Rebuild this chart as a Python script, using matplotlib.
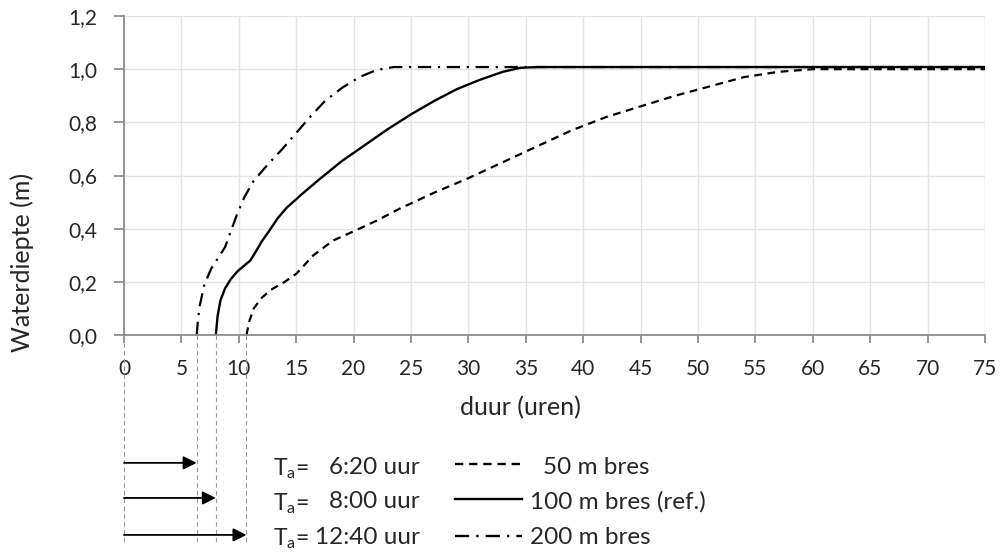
import matplotlib
matplotlib.use("Agg")
import matplotlib.pyplot as plt
import numpy as np

plt.rcParams['font.family'] = ['Lato', 'DejaVu Sans']
plt.rcParams['mathtext.fontset'] = 'custom'
plt.rcParams['mathtext.rm'] = 'Lato'

# 50 m bres
x50 = [10.67, 10.9, 11.3, 12.0, 12.8, 14.0, 15.0, 16.5, 18.2, 20.0, 22.0, 24.0, 27.0, 30.0,
       33.0, 36.0, 39.0, 42.0, 45.0, 48.0, 51.0, 54.0, 57.0, 60.0, 75.0]
y50 = [0.0, 0.05, 0.10, 0.14, 0.17, 0.20, 0.23, 0.30, 0.355, 0.39, 0.43, 0.475, 0.535, 0.59,
       0.65, 0.71, 0.77, 0.82, 0.86, 0.90, 0.935, 0.97, 0.99, 1.0, 1.0]

# 100 m bres (ref.)
x100 = [8.0, 8.15, 8.4, 8.8, 9.3, 9.9, 10.5, 11.0, 11.5, 12.0, 12.7, 13.4, 14.2, 15.5, 17.0,
        19.0, 21.0, 23.0, 25.0, 27.0, 29.0, 31.0, 33.0, 34.5, 36.0, 75.0]
y100 = [0.0, 0.07, 0.13, 0.175, 0.21, 0.24, 0.262, 0.28, 0.315, 0.352, 0.395, 0.44, 0.48, 0.53,
        0.585, 0.655, 0.715, 0.775, 0.83, 0.88, 0.925, 0.96, 0.99, 1.005, 1.008, 1.008]

# 200 m bres
x200 = [6.33, 6.45, 6.6, 7.0, 7.6, 8.2, 8.8, 9.3, 9.9, 10.5, 11.3, 12.5, 13.8, 15.0, 16.2,
        17.5, 19.0, 20.5, 22.0, 23.5, 75.0]
y200 = [0.0, 0.06, 0.11, 0.19, 0.25, 0.29, 0.33, 0.39, 0.46, 0.52, 0.58, 0.64, 0.70, 0.76, 0.82,
        0.88, 0.93, 0.97, 0.997, 1.008, 1.008]

# aankomsttijden zoals getekend (uren) en labels
t_arr = [6.33, 8.0, 10.67]
t_lbl = ["6:20 uur", "8:00 uur", "12:40 uur"]
leg_lbl = ["50 m bres", "100 m bres (ref.)", "200 m bres"]

xticks = np.arange(0, 76, 5)
yticks = np.arange(0, 1.21, 0.2)

fig = plt.figure(figsize=(10.02, 5.54), dpi=100)
ax = fig.add_axes([124/1002, 1 - 335/554, (985 - 124)/1002, (335 - 16)/554])

grey = '#8c8c8c'
txt = '#262626'
ax.grid(True, color='#e4e4e4', lw=1.0)
ax.set_axisbelow(True)
for s in ['top', 'right']:
    ax.spines[s].set_visible(False)
for s in ['left', 'bottom']:
    ax.spines[s].set_color(grey)
    ax.spines[s].set_linewidth(1.3)
ax.tick_params(colors=grey, width=1.3, labelcolor=txt, labelsize=15)
ax.tick_params(axis='x', length=6, pad=11)
ax.tick_params(axis='y', length=7, pad=12)

dash = (0, (3.5, 2.5))
dashdot = (0, (6, 3, 1, 3))
ax.plot(x50, y50, color='black', lw=1.6, ls=dash)
ax.plot(x100, y100, color='black', lw=1.7)
ax.plot(x200, y200, color='black', lw=1.6, ls=dashdot)

ax.set_xlim(0, 75)
ax.set_ylim(0, 1.2)
ax.set_xticks(xticks)
ax.set_yticks(yticks)
ax.set_yticklabels([f"{v:.1f}".replace('.', ',') for v in yticks])

def px(x, y):
    return x / 1002, 1 - y / 554

fig.text(*px(520, 408), "duur (uren)", fontsize=18, ha='center', va='center', color=txt)
fig.text(*px(22, 262), "Waterdiepte (m)", fontsize=18, ha='center', va='center',
         rotation=90, color=txt)

# stippellijnen naar aankomsttijd
y_bot = -0.79
for t in [0.0] + t_arr:
    ax.plot([t, t], [0, y_bot], color='#999999', lw=0.8, ls=(0, (4, 3)), clip_on=False)

arrow_y = [-0.481, -0.613, -0.752]
for t, ya in zip(t_arr, arrow_y):
    ax.annotate("", xy=(t, ya), xytext=(0, ya), annotation_clip=False,
                arrowprops=dict(arrowstyle='-|>', color='black', lw=1.3,
                                mutation_scale=20, shrinkA=0, shrinkB=0))

# T_a teksten (in pixels)
row_y = [467, 502, 537]
for ya, lbl in zip(row_y, t_lbl):
    fig.text(*px(273, ya + 2), r"T$_{\mathrm{a}}$=", fontsize=16.5, va='center', ha='left',
             color=txt)
    fig.text(*px(420, ya), lbl, fontsize=17.5, va='center', ha='right', color=txt)

# legenda
leg_styles = [dash, '-', dashdot]
leg_y = [464, 499, 536]
leg_tx = [543, 530, 530]
for ls, ly, ty, lbl, tx in zip(leg_styles, leg_y, row_y, leg_lbl, leg_tx):
    x0, yy = px(455, ly)
    x1, _ = px(522, ly)
    fig.add_artist(plt.Line2D([x0, x1], [yy, yy], color='black', lw=1.7, ls=ls,
                              transform=fig.transFigure))
    fig.text(*px(tx, ty), lbl, fontsize=17.5, va='center', ha='left', color=txt)

fig.savefig("out.png", dpi=100)
